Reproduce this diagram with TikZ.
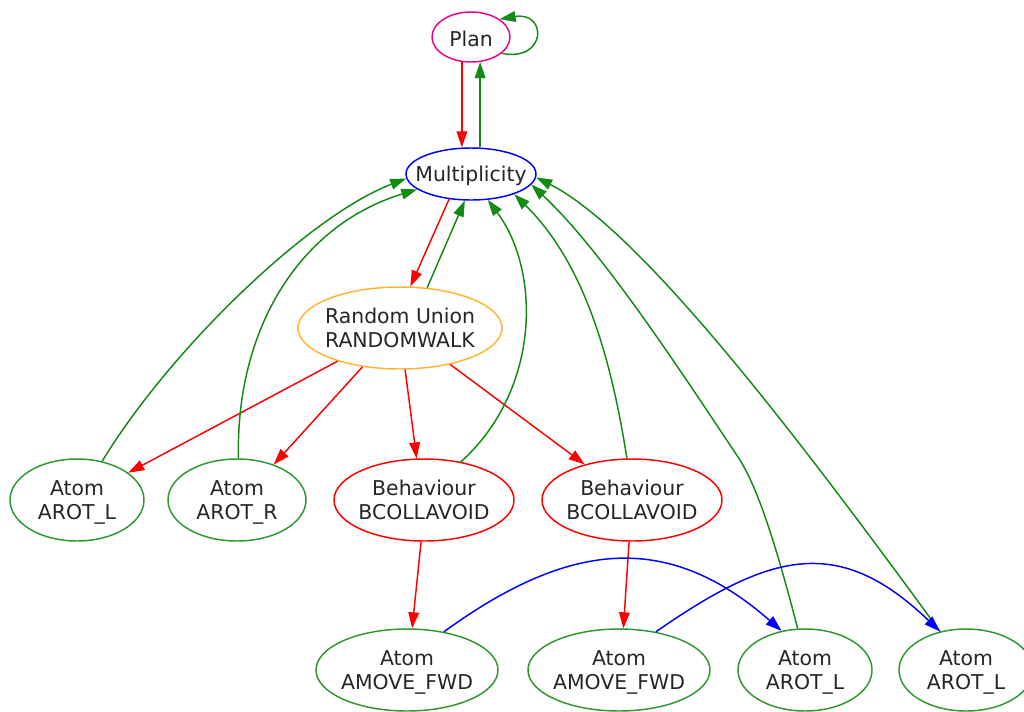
\documentclass[tikz,border=0pt]{standalone}
\usepackage{fontspec}
\setmainfont{DejaVu Sans}
\usetikzlibrary{arrows.meta,shapes.geometric}
\definecolor{edgegreen}{HTML}{138A13}
\definecolor{nodegreen}{HTML}{2F982F}
\definecolor{ruorange}{HTML}{FFB433}
% labels keep zero width so the ellipse size is set only by the style
\newcommand{\twolines}[2]{\makebox[0pt]{\raisebox{-2.2pt}[\height][\depth]{\begin{tabular}{@{}c@{}}#1\\#2\end{tabular}}}}
\newcommand{\oneline}[1]{\makebox[0pt]{\raisebox{-1.2pt}[\height][\depth]{#1}}}

\begin{document}
\begin{tikzpicture}[x=0.75pt,y=-0.75pt,
  every node/.style={font=\fontsize{15.3}{18}\selectfont, text=black!85},
  oval/.style args={#1/#2}{ellipse, draw, line width=1.1pt, inner sep=0pt,
    minimum width=#1*1.5pt, minimum height=#2*1.5pt},
  tip/.style={-{Triangle[length=12pt,width=8pt]}},
  gedge/.style={draw=edgegreen, line width=1.1pt, tip},
  redge/.style={draw=red, line width=1.1pt, tip},
  bedge/.style={draw=blue, line width=1.1pt, tip}]

% canvas
\fill[white] (0,0) rectangle (1024,711);
\useasboundingbox (0,0) rectangle (1024,711);

% nodes
\node[oval=39/25, draw=magenta] (plan) at (471,37) {\oneline{Plan}};
\node[oval=65/26, draw=blue] (mult) at (471,174) {\oneline{Multiplicity}};
\node[oval=102/41, draw=ruorange] (ru) at (400,328) {\twolines{Random Union}{RANDOMWALK}};
\node[oval=67/41, draw=nodegreen] (a1) at (77,500) {\twolines{Atom}{AROT\_L}};
\node[oval=69/41, draw=nodegreen] (a2) at (237,500) {\twolines{Atom}{AROT\_R}};
\node[oval=90/41, draw=red] (b1) at (424,500) {\twolines{Behaviour}{BCOLLAVOID}};
\node[oval=90/41, draw=red] (b2) at (632,500) {\twolines{Behaviour}{BCOLLAVOID}};
\node[oval=91/41, draw=nodegreen] (m1) at (407,670) {\twolines{Atom}{AMOVE\_FWD}};
\node[oval=91/41, draw=nodegreen] (m2) at (619,670) {\twolines{Atom}{AMOVE\_FWD}};
\node[oval=67/41, draw=nodegreen] (l3) at (805,670) {\twolines{Atom}{AROT\_L}};
\node[oval=67/41, draw=nodegreen] (l4) at (966,670) {\twolines{Atom}{AROT\_L}};

% plan <-> multiplicity
\draw[redge] (plan.-110) -- (plan.-110 |- mult.north);
\draw[gedge] (mult.north -| plan.-70) -- (plan.-70);
\draw[gedge] (plan.-28) .. controls +(45,9) and +(48,-8) .. (plan.32);

% multiplicity <-> random union
\draw[redge] (mult.-131) -- (ru.76);
\draw[gedge] (ru.56) -- (mult.-103);

% random union children
\draw[redge] (ru.-152) -- (a1.28);
\draw[redge] (ru.-134) -- (a2.44);
\draw[redge] (ru.-83) -- (b1.100);
\draw[redge] (ru.-36) -- (b2.143);

% returns to multiplicity
\draw[gedge] (a1.57) .. controls +(68,-112) and +(-97,37) .. (mult.-176);
\draw[gedge] (a2.88) .. controls +(-3,-129) and +(-118,36) .. (mult.-164);
\draw[gedge] (b1.46) .. controls +(80,-72) and +(53,71) .. (mult.-57);
\draw[gedge] (b2.97) .. controls +(-17,-109) and +(67,66) .. (mult.-25);
\coordinate (bend) at (738,457);
\draw[gedge] (l3.100) .. controls +(-18,-69) and +(22,33) .. (bend)
  .. controls +(-58,-87) and +(70,65) .. (mult.-10);
\draw[gedge] (l4.124) .. controls +(-140,-192) and +(105,53) .. (mult.-3);

% behaviours to their atoms
\draw[redge] (b1.-94) -- (m1.83);
\draw[redge] (b2.-94) -- (m2.84);

% sequence links
\draw[bedge] (m1.46) .. controls +(124,-90) and +(-115,-101) .. (l3.121);
\draw[bedge] (m2.46) .. controls +(115,-80) and +(-101,-97) .. (l4.124);

\end{tikzpicture}
\end{document}
